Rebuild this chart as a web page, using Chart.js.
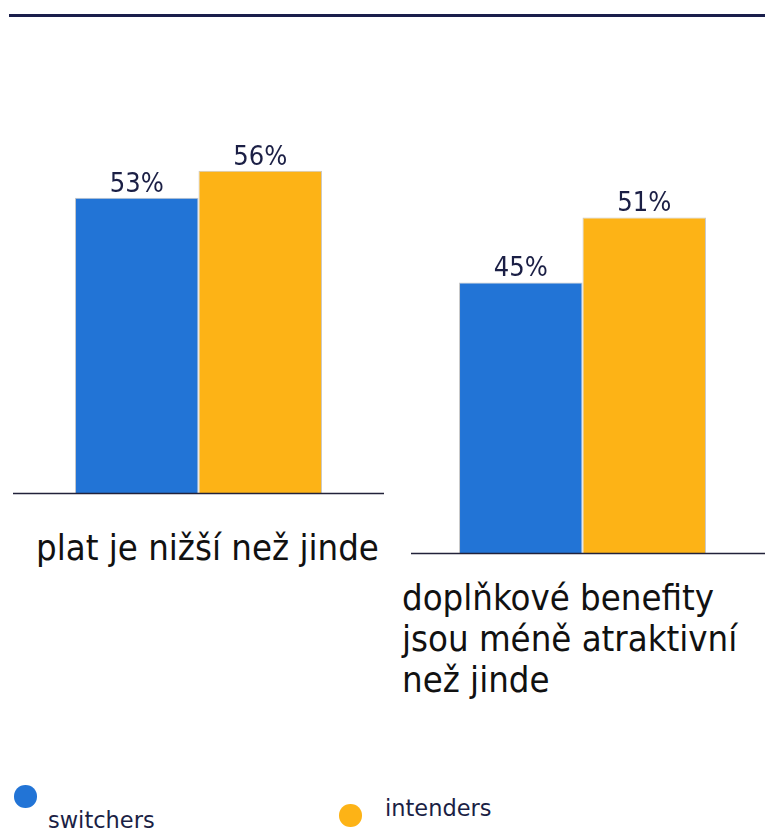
<!DOCTYPE html>
<html>
<head>
<meta charset="utf-8">
<script src="https://cdn.jsdelivr.net/npm/chart.js@4"></script>
<style>
  html, body { margin: 0; padding: 0; background: #fff; overflow: hidden; }
  body { width: 765px; height: 832px; position: relative; }
  .rule { position: absolute; left: 9px; right: 0; top: 14px; height: 3px; background: #1a1e4b; }
  canvas { position: absolute; }
  .cat { position: absolute; font-family: "DejaVu Sans Condensed", "DejaVu Sans", sans-serif; font-size: 36.2px; line-height: 41px; color: #111; white-space: nowrap; }
  .leg { position: absolute; font-family: "DejaVu Sans", sans-serif; font-size: 22.5px; line-height: 26px; color: #1b1f45; white-space: nowrap; }
  .dot { position: absolute; width: 22.6px; height: 22.6px; border-radius: 50%; }
</style>
</head>
<body>
<div class="rule"></div>
<canvas id="platChart" width="371" height="362" style="left:13px; top:135px;"></canvas>
<canvas id="benefitChart" width="354" height="437" style="left:411px; top:120px;"></canvas>
<div class="cat" id="cat0" style="left:36px; top:526.5px;"></div>
<div class="cat" id="cat1" style="left:402px; top:577px;"></div>
<div class="dot" style="left:14px; top:785px; background:#2274d6;"></div>
<div class="leg" id="leg0" style="left:48px; top:807px;"></div>
<div class="dot" style="left:339.4px; top:804.2px; background:#fdb316;"></div>
<div class="leg" id="leg1" style="left:385px; top:795px;"></div>

<script>
const categories = ["plat je nižší než jinde", "doplňkové benefity\njsou méně atraktivní\nnež jinde"];
const seriesNames = ["switchers", "intenders"];
const switchers = [53, 45];
const intenders = [56, 51];
const seriesColors = ["#2274d6", "#fdb316"];
const axisMin = 20;
const axisMax = 60;

// value labels above the bars
const valueLabels = {
  id: "valueLabels",
  afterDatasetsDraw(chart) {
    const ctx = chart.ctx;
    ctx.save();
    ctx.font = '27px "DejaVu Sans Condensed", "DejaVu Sans", sans-serif';
    ctx.fillStyle = "#1b1f45";
    ctx.textAlign = "center";
    ctx.textBaseline = "alphabetic";
    chart.data.datasets.forEach((ds, i) => {
      chart.getDatasetMeta(i).data.forEach((bar, j) => {
        ctx.fillText(ds.data[j] + "%", bar.x, bar.y - 6);
      });
    });
    ctx.restore();
  },
};

// baseline under the bars, runs to the edge of the canvas
const baseLine = {
  id: "baseLine",
  afterDraw(chart) {
    const ctx = chart.ctx;
    const y = chart.scales.y.getPixelForValue(axisMin);
    ctx.save();
    ctx.strokeStyle = "#22223a";
    ctx.lineWidth = 1.5;
    ctx.beginPath();
    ctx.moveTo(0, y + 0.5);
    ctx.lineTo(chart.width, y + 0.5);
    ctx.stroke();
    ctx.restore();
  },
};

function groupChart(id, idx, padRight, groupPct) {
  const ctx = document.getElementById(id);
  return new Chart(ctx, {
    type: "bar",
    data: {
      labels: [categories[idx]],
      datasets: [
        {
          label: seriesNames[0],
          data: [switchers[idx]],
          backgroundColor: seriesColors[0],
          borderColor: "#c8c8c8",
          borderWidth: 1,
        },
        {
          label: seriesNames[1],
          data: [intenders[idx]],
          backgroundColor: seriesColors[1],
          borderColor: "#c8c8c8",
          borderWidth: 1,
        },
      ],
    },
    options: {
      responsive: false,
      animation: false,
      layout: { padding: { left: 0, right: padRight, top: 0, bottom: 4 } },
      datasets: { bar: { categoryPercentage: groupPct, barPercentage: 1 } },
      plugins: { legend: { display: false }, tooltip: { enabled: false } },
      scales: {
        x: { display: false },
        y: { display: false, min: axisMin, max: axisMax },
      },
    },
    plugins: [valueLabels, baseLine],
  });
}

groupChart("platChart", 0, 0, 0.666);
groupChart("benefitChart", 1, 11, 0.72);

categories.forEach((c, i) => {
  document.getElementById("cat" + i).innerHTML = c.split("\n").join("<br>");
});
seriesNames.forEach((s, i) => {
  document.getElementById("leg" + i).textContent = s;
});
</script>
</body>
</html>
